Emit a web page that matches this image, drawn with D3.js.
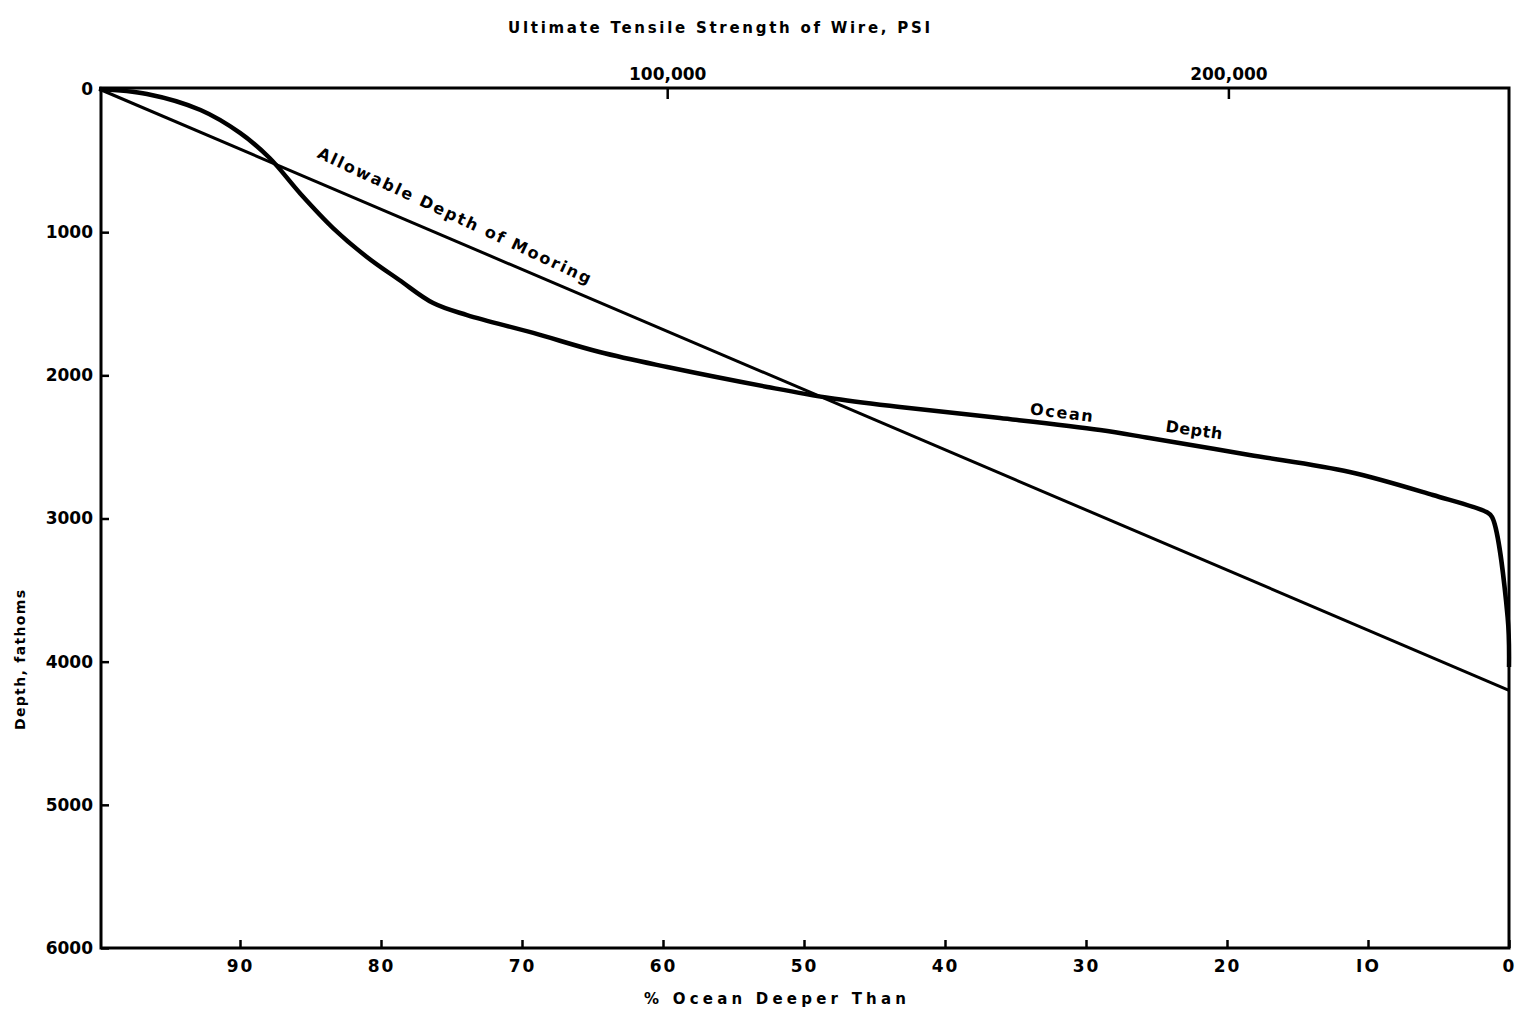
<!DOCTYPE html>
<html><head><meta charset="utf-8">
<script src="https://cdn.jsdelivr.net/npm/d3@7/dist/d3.min.js"></script>
<style>
body{margin:0;background:#fff;}
text{font-family:"DejaVu Sans",Verdana,sans-serif;font-weight:bold;fill:#000;}
</style></head><body>
<svg id="c" width="1517" height="1015"></svg>
<script>
// Data
const pctTicks = [90,80,70,60,50,40,30,20,10,0];
const pctTickLabels = ["90","80","70","60","50","40","30","20","IO","0"];
const depthTicks = [0,1000,2000,3000,4000,5000,6000];
const strengthTicks = [100000,200000];
const strengthTickLabels = ["100,000","200,000"];
const oceanPct =   [100,96.6,92.8,90.0,87.9,85.7,83.4,81.0,78.7,76.3,73.9,69.2,64.5,59.7,52.6,48.2,43.2,36.1,29.0,25.5,18.4,11.3,5.4,1.6,1.2,0.1,0];
const oceanDepth = [0,35,147,307,482,733,971,1173,1334,1495,1579,1704,1837,1942,2081,2158,2221,2298,2382,2438,2556,2675,2836,2955,2990,3688,4037];
const allowPct =   [100,0];
const allowDepth = [0,4200];

const svg = d3.select("#c");
const x = d3.scaleLinear().domain([100,0]).range([99,1509]);
const xTop = d3.scaleLinear().domain([0,250000]).range([106,1509]);
const y = d3.scaleLinear().domain([0,6000]).range([89,948]);

// frame
svg.append("rect").attr("x",101).attr("y",88).attr("width",1408).attr("height",860)
  .attr("fill","none").attr("stroke","#000").attr("stroke-width",3);

// bottom axis
const gb = svg.append("g").attr("transform","translate(0,948)")
  .call(d3.axisBottom(x).tickValues(pctTicks).tickSize(-8).tickPadding(12)
    .tickFormat((d,i)=>pctTickLabels[i]));
// left axis
const gl = svg.append("g").attr("transform","translate(101,0)")
  .call(d3.axisLeft(y).tickValues(depthTicks).tickSize(-8).tickPadding(8).tickFormat(d3.format("d")));
// top axis
const gt = svg.append("g").attr("transform","translate(0,88)")
  .call(d3.axisTop(xTop).tickValues(strengthTicks).tickSize(-11).tickPadding(8)
    .tickFormat((d,i)=>strengthTickLabels[i]));
[gb,gl,gt].forEach(g=>{
  g.select(".domain").remove();
  g.selectAll(".tick line").attr("stroke","#000").attr("stroke-width",2.5);
  g.selectAll(".tick text").style("font-size","17px").style("font-weight","bold")
   .attr("font-family","DejaVu Sans").attr("fill","#000");
});
gb.selectAll(".tick text").style("letter-spacing","2px");

// lines
const ocean = oceanPct.map((p,i)=>[p,oceanDepth[i]]);
const allow = allowPct.map((p,i)=>[p,allowDepth[i]]);
const line = d3.line().x(d=>x(d[0])).y(d=>y(d[1]));
svg.append("path").datum(allow).attr("d",line).attr("fill","none")
  .attr("stroke","#000").attr("stroke-width",3);
svg.append("path").datum(ocean).attr("d",line.curve(d3.curveCatmullRom.alpha(0.5)))
  .attr("fill","none").attr("stroke","#000").attr("stroke-width",4.5).attr("stroke-linejoin","round");

// titles
svg.append("text").attr("x",719).attr("y",33).attr("text-anchor","middle")
  .style("font-size","15px").attr("textLength",422).attr("lengthAdjust","spacing")
  .text("Ultimate  Tensile  Strength  of  Wire, PSI");
svg.append("text").attr("x",775).attr("y",1004).attr("text-anchor","middle")
  .style("font-size","15px").attr("textLength",262).attr("lengthAdjust","spacing")
  .text("% Ocean  Deeper  Than");
svg.append("text").attr("transform","translate(25,660) rotate(-90)").attr("text-anchor","middle")
  .style("font-size","14px").attr("textLength",140).attr("lengthAdjust","spacing")
  .text("Depth, fathoms");

// curve labels
const ang1 = Math.atan2(y(4200)-y(0), x(0)-x(100))*180/Math.PI + 2;
svg.append("text").attr("transform",`translate(${x(84.6)},${y(475)}) rotate(${ang1})`)
  .style("font-size","16px").attr("textLength",300).attr("lengthAdjust","spacing")
  .text("Allowable  Depth  of  Mooring");
svg.append("text").attr("transform",`translate(${x(34)},${y(2272)}) rotate(7)`)
  .style("font-size","16px").attr("textLength",63).attr("lengthAdjust","spacing")
  .text("Ocean");
svg.append("text").attr("transform",`translate(${x(24.4)},${y(2392)}) rotate(8)`)
  .style("font-size","16px").attr("textLength",57).attr("lengthAdjust","spacing")
  .text("Depth");
</script></body></html>
